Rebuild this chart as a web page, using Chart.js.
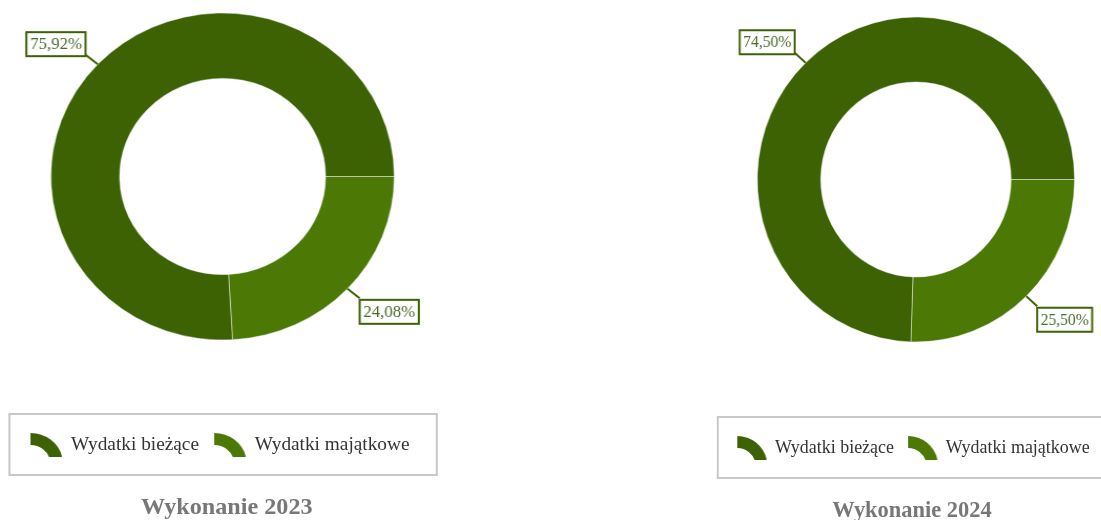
<!DOCTYPE html>
<html lang="pl">

<head>
    <meta charset="UTF-8" />
    <title>Wykonanie 2023 / 2024</title>
    <script src="https://cdn.jsdelivr.net/npm/chart.js@4.4.1/dist/chart.umd.min.js"></script>
    <style>
        body { margin: 0; background: #fff; overflow: hidden; width: 1101px; height: 520px; position: relative; }
        .panel { position: absolute; top: 0; width: 424px; height: 520px; transform-origin: 0 0; }
        .wykres { position: absolute; left: 0; top: 0; width: 424px; height: 360px; }
        .legenda {
            position: absolute; left: 7.6px; top: 413px; width: 409.5px; height: 63px;
            box-sizing: border-box; border: 2px solid #c8c8c8;
            display: flex; align-items: center; padding-left: 18px;
            font: 18.4px "Liberation Serif", serif; color: #333; white-space: nowrap;
        }
        .legenda .item { display: flex; align-items: center; }
        .legenda .item + .item { margin-left: 13px; }
        .legenda canvas { margin-right: 8px; }
        .tytul {
            position: absolute; left: 0; top: 493px; width: 424px; text-align: center;
            font: bold 23px/28px "Liberation Serif", serif; color: #777;
        }
    </style>
</head>

<body>
    <div class="panel" id="p2023" style="left:0; transform: scaleX(1.05);">
        <div class="wykres"><canvas id="c2023"></canvas></div>
        <div class="legenda" id="l2023"></div>
        <div class="tytul" id="t2023" style="left:4px;"></div>
    </div>
    <div class="panel" id="p2024" style="left:709px; top:3px; transform: scaleX(0.976);">
        <div class="wykres"><canvas id="c2024"></canvas></div>
        <div class="legenda" id="l2024"></div>
        <div class="tytul" id="t2024" style="left:-4px;"></div>
    </div>
</body>
<script>
// udzial w wydatkach ogolem, w %
var kategorie = ['Wydatki bieżące', 'Wydatki majątkowe'];
var kolory = ['#3d6203', '#4c7806'];
var udzial2023 = [75.92, 24.08];
var udzial2024 = [74.50, 25.50];
var tytul2023 = 'Wykonanie 2023';
var tytul2024 = 'Wykonanie 2024';

var zielony = '#3d6203';
var fontEtykiet = '16px "Liberation Serif", serif';

// etykiety z procentami w ramkach, jak w oryginale
var etykiety = {
    id: 'etykiety',
    afterDatasetsDraw: function (chart) {
        var ctx = chart.ctx;
        var meta = chart.getDatasetMeta(0);
        var dane = chart.data.datasets[0].data;
        ctx.save();
        ctx.font = fontEtykiet;
        meta.data.forEach(function (arc, i) {
            var p = arc.getProps(['x', 'y', 'startAngle', 'endAngle', 'outerRadius'], true);
            var kat = (p.startAngle + p.endAngle) / 2;
            var cx = Math.cos(kat), sy = Math.sin(kat);
            var x0 = p.x + cx * p.outerRadius, y0 = p.y + sy * p.outerRadius;
            var x1 = x0 + cx * 16, y1 = y0 + sy * 14;
            var tekst = dane[i].toFixed(2).replace('.', ',') + '%';
            var w = ctx.measureText(tekst).width + 7, h = 24;
            var bx = cx < 0 ? x1 - w : x1;
            var by = (sy < 0 ? y1 - h : y1) + 1.5;

            ctx.strokeStyle = zielony;
            ctx.lineWidth = 2;
            ctx.beginPath();
            ctx.moveTo(x0, y0);
            ctx.lineTo(x1, y1);
            ctx.stroke();

            ctx.fillStyle = '#fff';
            ctx.fillRect(bx, by, w, h);
            ctx.strokeRect(bx, by, w, h);

            ctx.fillStyle = '#4a6b2c';
            ctx.textAlign = 'center';
            ctx.textBaseline = 'middle';
            ctx.fillText(tekst, bx + w / 2, by + h / 2 + 1);
        });
        ctx.restore();
    }
};

function ikona(kolor) {
    var c = document.createElement('canvas');
    c.width = 32;
    c.height = 25;
    var g = c.getContext('2d');
    g.fillStyle = kolor;
    g.beginPath();
    g.arc(1, 32, 31, -Math.PI / 2, -0.24);
    g.arc(1, 32, 19, -0.24, -Math.PI / 2, true);
    g.closePath();
    g.fill();
    return c;
}

function legenda(id) {
    var el = document.getElementById(id);
    for (var i = 0; i < kategorie.length; i++) {
        var item = document.createElement('div');
        item.className = 'item';
        item.appendChild(ikona(kolory[i]));
        var s = document.createElement('span');
        s.textContent = kategorie[i];
        item.appendChild(s);
        el.appendChild(item);
    }
}

function wykres(id, udzial, promien, gora) {
    // wycinki rysowane od godziny 3 zgodnie z ruchem wskazowek: najpierw majatkowe
    new Chart(document.getElementById(id), {
        type: 'doughnut',
        data: {
            labels: kategorie.slice().reverse(),
            datasets: [{
                data: udzial.slice().reverse(),
                backgroundColor: kolory.slice().reverse(),
                borderColor: 'rgba(255, 255, 255, 0.45)',
                borderWidth: 1,
                hoverOffset: 0,
                radius: promien,
                cutout: '60%'
            }]
        },
        options: {
            responsive: true,
            maintainAspectRatio: false,
            animation: false,
            rotation: 90,
            layout: { padding: { top: gora, bottom: 360 - gora - 2 * promien } },
            plugins: {
                legend: { display: false },
                tooltip: { enabled: false }
            }
        },
        plugins: [etykiety]
    });
}

document.getElementById('t2023').textContent = tytul2023;
document.getElementById('t2024').textContent = tytul2024;
legenda('l2023');
legenda('l2024');
wykres('c2023', udzial2023, 163.5, 13);
wykres('c2024', udzial2024, 162.5, 14);
</script>

</html>
